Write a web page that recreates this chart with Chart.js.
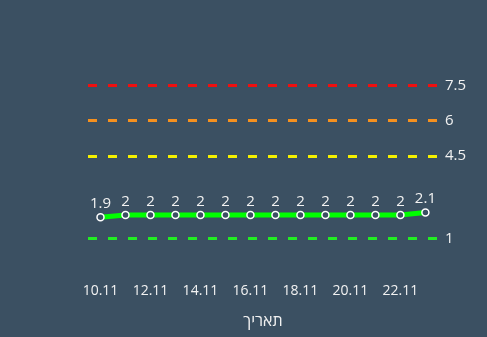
<!DOCTYPE html>
<html>
<head>
<meta charset="utf-8">
<script src="https://cdn.jsdelivr.net/npm/chart.js@4/dist/chart.umd.min.js"></script>
<style>
  html, body { margin: 0; padding: 0; background: #3b5062; }
  #wrap { width: 487px; height: 337px; }
</style>
</head>
<body>
<div id="wrap"><canvas id="chart"></canvas></div>
<script>
// Dates on the x axis (every other one is labelled)
const dates = ['10.11', '11.11', '12.11', '13.11', '14.11', '15.11', '16.11',
               '17.11', '18.11', '19.11', '20.11', '21.11', '22.11', '23.11'];
// Measured values
const values = [1.9, 2, 2, 2, 2, 2, 2, 2, 2, 2, 2, 2, 2, 2.1];
// Threshold lines and their colours
const thresholds = [1, 4.5, 6, 7.5];
const thresholdColors = ['#22ee22', '#f5f000', '#f5901e', '#f01010'];

const bgColor = '#3b5062';
const textColor = '#f2f2f2';
const fontFamily = "'Open Sans', sans-serif";

// Fill background
const background = {
    id: 'background',
    beforeDraw(chart) {
        const ctx = chart.ctx;
        ctx.save();
        ctx.fillStyle = bgColor;
        ctx.fillRect(0, 0, chart.width, chart.height);
        ctx.restore();
    },
};

// Value labels above the points
const pointLabels = {
    id: 'pointLabels',
    afterDatasetsDraw(chart) {
        const ctx = chart.ctx;
        const meta = chart.getDatasetMeta(0);
        ctx.save();
        ctx.fillStyle = textColor;
        ctx.font = `15px ${fontFamily}`;
        ctx.textAlign = 'center';
        ctx.textBaseline = 'bottom';
        meta.data.forEach((pt, i) => {
            ctx.fillText(String(values[i]), pt.x, pt.y - 6);
        });
        ctx.restore();
    },
};

new Chart(document.getElementById('chart'), {
    type: 'line',
    data: {
        labels: dates,
        datasets: [{
            data: values,
            borderColor: '#00ff00',
            borderWidth: 5,
            tension: 0,
            pointRadius: 3.5,
            pointBorderWidth: 1.5,
            pointBackgroundColor: bgColor,
            pointBorderColor: '#ffffff',
            yAxisID: 'y',
        }],
    },
    options: {
        responsive: true,
        maintainAspectRatio: false,
        animation: false,
        layout: { padding: { left: 88, right: 14, top: 50, bottom: 2 } },
        plugins: {
            legend: { display: false },
            tooltip: { enabled: false },
        },
        scales: {
            x: {
                offset: true,
                grid: { display: false, drawTicks: false },
                border: { display: false },
                ticks: {
                    autoSkip: false,
                    maxRotation: 0,
                    color: textColor,
                    padding: 20.5,
                    font: { family: fontFamily, size: 14 },
                    callback: (val, i) => (i % 2 === 0 ? dates[i] : ''),
                },
                title: {
                    display: true,
                    text: 'תאריך',
                    color: textColor,
                    font: { family: fontFamily, size: 16 },
                    padding: { top: -8 },
                },
            },
            y: {
                display: false,
                min: 0,
                max: 9,
            },
            y2: {
                position: 'right',
                min: 0,
                max: 9,
                afterBuildTicks: (axis) => {
                    axis.ticks = thresholds.map((v) => ({ value: v }));
                },
                grid: {
                    drawTicks: false,
                    lineWidth: 3,
                    color: (c) => thresholdColors[thresholds.indexOf(c.tick && c.tick.value)] || 'transparent',
                },
                border: { display: false, dash: [9, 11] },
                ticks: {
                    color: textColor,
                    padding: 7,
                    font: { family: fontFamily, size: 15 },
                },
            },
        },
    },
    plugins: [background, pointLabels],
});
</script>
</body>
</html>
